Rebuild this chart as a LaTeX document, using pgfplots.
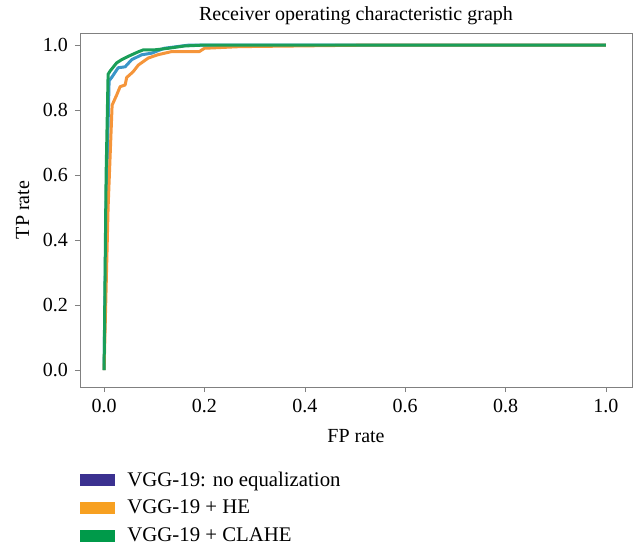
\documentclass[border=0pt]{standalone}
\usepackage{fontspec}
\setmainfont{Liberation Serif}
\usepackage{pgfplots}
\pgfplotsset{compat=1.18}

\definecolor{lineblue}{HTML}{3A96C8}
\definecolor{lineorange}{HTML}{F5953A}
\definecolor{linegreen}{HTML}{1A9E58}
\definecolor{legblue}{HTML}{3B3190}
\definecolor{legorange}{HTML}{F7A021}
\definecolor{leggreen}{HTML}{009A4A}

\begin{document}
\begin{tikzpicture}
\begin{axis}[
    width=276pt, height=177pt, scale only axis,
    xmin=-0.048, xmax=1.052, ymin=-0.052, ymax=1.037,
    xtick={0,0.2,0.4,0.6,0.8,1.0},
    ytick={0,0.2,0.4,0.6,0.8,1.0},
    xticklabel style={/pgf/number format/.cd, fixed, fixed zerofill, precision=1},
    yticklabel style={/pgf/number format/.cd, fixed, fixed zerofill, precision=1},
    /pgf/number format/assume math mode=true,
    tick align=outside, tick pos=left, major tick length=2.5pt,
    axis line style={gray}, tick style={gray},
    font=\fontsize{10}{12}\selectfont,
    title=Receiver operating characteristic graph,
    title style={yshift=-5.5pt},
    xlabel=FP rate, ylabel=TP rate,
    xlabel style={yshift=-1.5pt},
    legend style={at={(0,-0.227)}, anchor=north west, draw=none, fill=none,
      font=\fontsize{10.4}{12.4}\selectfont, row sep=1.4pt, inner sep=0pt,
      cells={anchor=west}},
    legend cell align=left,
    legend image code/.code={\fill[#1, draw=none] (0pt,-3pt) rectangle (17.5pt,3pt);},
    every axis plot/.append style={line width=1.5pt, line join=round},
  ]
\addplot[lineblue, forget plot] coordinates {
  (0,0) (0.004,0.5) (0.010,0.89) (0.015,0.90) (0.028,0.93) (0.042,0.933)
  (0.055,0.955) (0.075,0.970) (0.095,0.975) (0.12,0.99) (0.17,1.0) (1.0,1.0)};
\addplot[lineorange, forget plot] coordinates {
  (0,0) (0.008,0.5) (0.016,0.815) (0.025,0.846) (0.032,0.872) (0.042,0.877)
  (0.045,0.90) (0.058,0.918) (0.068,0.938) (0.088,0.96) (0.107,0.97)
  (0.135,0.98) (0.19,0.98) (0.20,0.99) (0.27,0.995) (0.54,1.0) (1.0,1.0)};
\addplot[linegreen, forget plot] coordinates {
  (0,0) (0.004,0.6) (0.008,0.91) (0.012,0.92) (0.025,0.945) (0.035,0.955)
  (0.048,0.965) (0.068,0.979) (0.078,0.985) (0.10,0.985) (0.128,0.99)
  (0.16,0.997) (0.2,1.0) (1.0,1.0)};
\addlegendimage{legblue}
\addlegendentry{\hspace{4pt}VGG-19: no equalization}
\addlegendimage{legorange}
\addlegendentry{\hspace{4pt}VGG-19 + HE}
\addlegendimage{leggreen}
\addlegendentry{\hspace{4pt}VGG-19 + CLAHE}
\end{axis}
\path (-40pt,-80.5pt) rectangle (277.5pt,193.5pt);
\end{tikzpicture}
\end{document}
